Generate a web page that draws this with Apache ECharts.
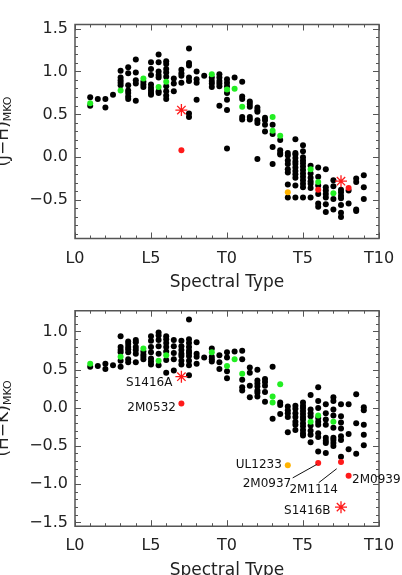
<!DOCTYPE html>
<html>
<head>
<meta charset="utf-8">
<script src="https://cdn.jsdelivr.net/npm/echarts@6/dist/echarts.min.js"></script>
<style>
  html, body { margin: 0; padding: 0; background: #fff; }
  #chart { width: 402px; height: 575px; }
</style>
</head>
<body>
<div id="chart"></div>
<script>
// spectral type as a number: L0 = 10, T0 = 20, T10 = 30
var xTickLabels = ['L0', 'L5', 'T0', 'T5', 'T10'];
var jhTicks = [-0.5, 0.0, 0.5, 1.0, 1.5];
var hkTicks = [-1.5, -1.0, -0.5, 0.0, 0.5, 1.0];

// ---- top panel: (J-H) ----
var jhBlack = [
  [11, 0.70], [11, 0.60], [11.5, 0.68], [12, 0.68], [12, 0.58], [12.5, 0.73],
  [13, 1.01], [13, 0.93], [13, 0.90], [13, 0.87], [13, 0.84],
  [13.5, 1.05], [13.5, 0.98], [13.5, 0.84], [13.5, 0.78], [13.5, 0.75], [13.5, 0.71], [13.5, 0.68],
  [14, 1.14], [14, 0.99], [14, 0.90], [14, 0.86], [14, 0.66],
  [14.5, 0.88], [14.5, 0.85], [14.5, 0.82],
  [15, 1.11], [15, 1.03], [15, 0.96], [15, 0.85], [15, 0.81], [15, 0.78], [15, 0.75], [15, 0.73],
  [15.5, 1.20], [15.5, 1.11], [15.5, 1.00], [15.5, 0.96], [15.5, 0.93], [15.5, 0.77], [15.5, 0.75],
  [16, 1.12], [16, 1.09], [16, 1.03], [16, 0.99], [16, 0.94], [16, 0.83], [16, 0.77], [16, 0.72], [16, 0.68],
  [16.5, 0.92], [16.5, 0.86], [16.5, 0.77],
  [17, 1.02], [17, 0.98], [17, 0.95], [17, 0.87],
  [17.5, 1.27], [17.5, 1.10], [17.5, 1.07], [17.5, 0.93], [17.5, 0.89], [17.5, 0.51], [17.5, 0.47],
  [18, 1.00], [18, 0.91], [18, 0.87], [18, 0.67],
  [18.5, 0.95],
  [19, 0.93], [19, 0.89], [19, 0.86], [19, 0.82],
  [19.5, 0.97], [19.5, 0.93], [19.5, 0.89], [19.5, 0.86], [19.5, 0.83], [19.5, 0.60],
  [20, 0.91], [20, 0.87], [20, 0.83], [20, 0.75], [20, 0.67], [20, 0.55], [20, 0.10],
  [20.5, 0.93],
  [21, 0.88], [21, 0.71], [21, 0.68], [21, 0.47], [21, 0.44],
  [21.5, 0.65], [21.5, 0.62], [21.5, 0.59], [21.5, 0.47], [21.5, 0.44],
  [22, 0.58], [22, 0.55], [22, 0.53], [22, 0.43], [22, 0.40], [22, -0.02],
  [22.5, 0.46], [22.5, 0.43], [22.5, 0.38], [22.5, 0.30],
  [23, 0.38], [23, 0.27], [23, 0.12], [23, -0.08],
  [23.5, 0.20], [23.5, 0.08], [23.5, 0.05], [23.5, 0.03],
  [24, 0.05], [24, 0.02], [24, -0.04], [24, -0.08], [24, -0.14], [24, -0.18], [24, -0.32], [24, -0.47],
  [24.5, 0.21], [24.5, 0.05], [24.5, 0.03], [24.5, -0.01], [24.5, -0.05], [24.5, -0.08], [24.5, -0.12],
  [24.5, -0.16], [24.5, -0.20], [24.5, -0.24], [24.5, -0.33], [24.5, -0.47],
  [25, 0.14], [25, 0.07], [25, 0.00], [25, -0.04], [25, -0.07], [25, -0.11], [25, -0.15], [25, -0.19],
  [25, -0.23], [25, -0.27], [25, -0.31], [25, -0.35], [25, -0.47],
  [25.5, -0.10], [25.5, -0.19], [25.5, -0.24], [25.5, -0.28], [25.5, -0.31], [25.5, -0.36], [25.5, -0.47],
  [26, -0.12], [26, -0.23], [26, -0.33], [26, -0.43], [26, -0.54], [26, -0.58],
  [26.5, -0.14], [26.5, -0.35], [26.5, -0.39], [26.5, -0.43], [26.5, -0.47], [26.5, -0.55], [26.5, -0.64],
  [27, -0.27], [27, -0.34], [27, -0.49], [27, -0.61],
  [27.5, -0.38], [27.5, -0.41], [27.5, -0.45], [27.5, -0.48], [27.5, -0.56], [27.5, -0.65], [27.5, -0.70],
  [28, -0.39], [28, -0.54],
  [28.5, -0.25], [28.5, -0.29], [28.5, -0.61], [28.5, -0.63],
  [29, -0.21], [29, -0.35], [29, -0.49]
];
var jhGreen = [
  [11, 0.63], [13, 0.78], [14.5, 0.92], [15.5, 0.82], [16, 0.88], [19, 0.97], [20, 0.79],
  [20.5, 0.80], [21, 0.59], [23, 0.47], [23, 0.31], [23.5, 0.25], [25.5, -0.14], [26, -0.29], [27, -0.42]
];
var jhOrange = [[24, -0.41]];
var jhRed = [[17, 0.08], [26, -0.38], [28, -0.36]];
var jhStars = [[17, 0.55], [27.5, -0.28]];

// ---- bottom panel: (H-K) ----
var hkBlack = [
  [11, 0.54], [11.5, 0.55], [12, 0.58], [12, 0.51], [12.5, 0.56],
  [13, 0.94], [13, 0.80], [13, 0.76], [13, 0.73], [13, 0.62], [13, 0.54],
  [13.5, 0.87], [13.5, 0.84], [13.5, 0.80], [13.5, 0.77], [13.5, 0.73], [13.5, 0.64], [13.5, 0.60],
  [14, 0.89], [14, 0.86], [14, 0.80], [14, 0.76], [14, 0.71], [14, 0.60],
  [14.5, 0.74], [14.5, 0.70], [14.5, 0.67], [14.5, 0.64],
  [15, 0.94], [15, 0.88], [15, 0.80], [15, 0.73], [15, 0.65], [15, 0.61], [15, 0.57],
  [15.5, 0.99], [15.5, 0.95], [15.5, 0.89], [15.5, 0.81], [15.5, 0.71], [15.5, 0.56],
  [16, 0.94], [16, 0.90], [16, 0.85], [16, 0.80], [16, 0.74], [16, 0.63], [16, 0.46],
  [16.5, 0.89], [16.5, 0.81], [16.5, 0.72], [16.5, 0.64], [16.5, 0.49],
  [17, 0.88], [17, 0.81], [17, 0.76], [17, 0.71], [17, 0.68], [17, 0.62], [17, 0.57],
  [17.5, 1.16], [17.5, 0.90], [17.5, 0.85], [17.5, 0.80], [17.5, 0.75], [17.5, 0.72], [17.5, 0.68],
  [17.5, 0.62], [17.5, 0.56], [17.5, 0.43],
  [18, 0.86], [18, 0.71], [18, 0.67], [18, 0.58],
  [18.5, 0.66],
  [19, 0.78], [19, 0.67], [19, 0.64], [19, 0.61],
  [19.5, 0.69], [19.5, 0.60], [19.5, 0.51],
  [20, 0.73], [20, 0.66], [20, 0.48], [20, 0.39],
  [20.5, 0.74],
  [21, 0.75], [21, 0.64], [21, 0.37], [21, 0.27], [21, 0.23],
  [21.5, 0.53], [21.5, 0.46], [21.5, 0.29], [21.5, 0.14],
  [22, 0.50], [22, 0.36], [22, 0.32], [22, 0.28], [22, 0.23], [22, 0.20], [22, 0.15],
  [22.5, 0.38], [22.5, 0.34], [22.5, 0.29], [22.5, 0.21], [22.5, 0.08],
  [23, 0.54], [23, -0.14],
  [23.5, 0.07], [23.5, 0.04], [23.5, -0.08],
  [24, 0.02], [24, -0.03], [24, -0.07], [24, -0.12], [24, -0.32],
  [24.5, 0.03], [24.5, -0.01], [24.5, -0.07], [24.5, -0.12], [24.5, -0.18], [24.5, -0.22], [24.5, -0.29],
  [25, 0.07], [25, 0.03], [25, 0.00], [25, -0.04], [25, -0.08], [25, -0.12], [25, -0.15], [25, -0.20],
  [25, -0.24], [25, -0.29], [25, -0.33], [25, -0.36],
  [25.5, 0.17], [25.5, -0.02], [25.5, -0.07], [25.5, -0.11], [25.5, -0.23], [25.5, -0.30], [25.5, -0.35], [25.5, -0.45],
  [26, 0.27], [26, 0.09], [26, 0.00], [26, -0.13], [26, -0.18], [26, -0.22], [26, -0.33], [26, -0.38], [26, -0.57],
  [26.5, 0.05], [26.5, -0.07], [26.5, -0.15], [26.5, -0.22], [26.5, -0.39], [26.5, -0.43], [26.5, -0.46], [26.5, -0.59],
  [27, 0.14], [27, 0.09], [27, -0.02], [27, -0.10], [27, -0.26], [27, -0.39], [27, -0.42], [27, -0.46], [27, -0.50],
  [27.5, 0.05], [27.5, -0.11], [27.5, -0.19], [27.5, -0.27], [27.5, -0.37], [27.5, -0.42], [27.5, -0.64],
  [28, 0.05], [28, -0.34], [28, -0.54],
  [28.5, 0.18], [28.5, -0.20], [28.5, -0.60],
  [29, 0.01], [29, -0.03], [29, -0.22], [29, -0.35], [29, -0.49]
];
var hkGreen = [
  [11, 0.58], [13, 0.67], [14.5, 0.78], [15.5, 0.62], [16, 0.69], [19, 0.73], [20, 0.55],
  [20.5, 0.64], [21, 0.45], [23, 0.15], [23, 0.07], [23.5, 0.31], [25.5, -0.18], [26, -0.10], [27, -0.18]
];
var hkOrange = [[24, -0.75]];
var hkOrangeNames = ['UL1233'];
var hkRed = [[17, 0.06], [26, -0.72], [27.5, -0.71], [28, -0.89]];
var hkRedNames = ['2M0532', '2M0937', '2M1114', '2M0939'];
var hkStars = [[17, 0.41], [27.5, -1.30]];
var hkStarNames = ['S1416A', 'S1416B'];

var FONT = 'DejaVu Sans';
var INK = '#222';
var FRAME = '#555';
var STAR = 'path://M6,0L6,12M0,6L12,6M1.8,1.8L10.2,10.2M1.8,10.2L10.2,1.8';

function minorValues(lo, hi, majors) {
  var out = [];
  for (var v = Math.ceil(lo * 10); v <= Math.floor(hi * 10); v++) {
    var val = v / 10;
    var isMajor = majors.some(function (m) { return Math.abs(m - val) < 1e-6; });
    if (!isMajor) out.push(val);
  }
  return out;
}

var panels = [
  { top: 24.5, height: 214, min: -0.95, max: 1.55, ticks: jhTicks, name: '(J\u2212H){s|MKO}' },
  { top: 310.7, height: 215.5, min: -1.55, max: 1.275, ticks: hkTicks, name: '(H\u2212K){s|MKO}' }
];

var grid = [], xAxis = [], yAxis = [];
panels.forEach(function (p, g) {
  grid.push({
    left: 75, width: 304, top: p.top, height: p.height,
    show: true, borderColor: FRAME, borderWidth: 1.5, backgroundColor: 'transparent',
    outerBoundsMode: 'none', containLabel: false
  });
  ['bottom', 'top'].forEach(function (pos) {
    xAxis.push({
      gridIndex: g, type: 'value', position: pos, min: 10, max: 30, interval: 5,
      axisLine: { show: false, onZero: false },
      axisTick: { show: true, inside: true, length: 6, lineStyle: { color: FRAME, width: 1 } },
      minorTick: { show: true, splitNumber: 5, length: 3, lineStyle: { color: FRAME, width: 1 } },
      splitLine: { show: false },
      axisLabel: {
        show: pos === 'bottom', margin: 12, color: INK, fontFamily: FONT, fontSize: 16,
        formatter: function (v) { return xTickLabels[Math.round((v - 10) / 5)]; }
      },
      name: pos === 'bottom' ? 'Spectral Type' : '',
      nameLocation: 'middle', nameGap: 36,
      nameTextStyle: { color: INK, fontFamily: FONT, fontSize: 17 }
    });
  });
  var minors = minorValues(p.min, p.max, p.ticks);
  ['left', 'right'].forEach(function (pos) {
    yAxis.push({
      gridIndex: g, type: 'value', position: pos, min: p.min, max: p.max,
      axisLine: { show: false, onZero: false },
      axisTick: { show: true, inside: true, length: 6, customValues: p.ticks, lineStyle: { color: FRAME, width: 1 } },
      splitLine: { show: false },
      axisLabel: {
        show: pos === 'left', customValues: p.ticks, margin: 7, color: INK, fontFamily: FONT, fontSize: 16,
        formatter: function (v) { return (v < 0 ? '\u2212' : '') + Math.abs(v).toFixed(1); }
      },
      name: pos === 'left' ? p.name : '',
      nameLocation: 'middle', nameRotate: 90, nameGap: 61, nameMoveOverlap: false,
      nameTextStyle: {
        color: INK, fontFamily: FONT, fontSize: 17,
        rich: { s: { fontFamily: FONT, fontSize: 11, color: INK, padding: [10, 0, 0, 0] } }
      }
    });
    yAxis.push({
      gridIndex: g, type: 'value', position: pos, min: p.min, max: p.max,
      axisLine: { show: false, onZero: false },
      axisTick: { show: true, inside: true, length: 3, customValues: minors, lineStyle: { color: FRAME, width: 1 } },
      splitLine: { show: false },
      axisLabel: { show: false }
    });
  });
});

function dots(data, color, g, size) {
  return {
    type: 'scatter', xAxisIndex: g * 2, yAxisIndex: g * 4, data: data,
    symbol: 'circle', symbolSize: size || 6, silent: true,
    itemStyle: { color: color, opacity: 1 }
  };
}
function stars(data, g) {
  return {
    type: 'scatter', xAxisIndex: g * 2, yAxisIndex: g * 4, data: data,
    symbol: STAR, symbolSize: 12, silent: true,
    itemStyle: { color: 'none', borderColor: '#ff1a1a', borderWidth: 1.3, opacity: 1 }
  };
}
function named(points, names) {
  return points.map(function (pt, i) { return { value: pt, name: names[i] }; });
}
var labelStyle = {
  show: true, formatter: '{b}', position: 'left', distance: 5,
  color: '#111', fontFamily: FONT, fontSize: 12
};

var orangeSeries = dots(named(hkOrange, hkOrangeNames), '#ffb300', 1);
orangeSeries.label = Object.assign({}, labelStyle);
orangeSeries.labelLayout = { dx: 2 };

var redSeries = dots(named(hkRed, hkRedNames), '#ff1a1a', 1);
redSeries.label = Object.assign({}, labelStyle);
var redShift = [[2.5, 4], [-19, 21], [5, 28], [-4.5, 4]];
redSeries.data[3].label = { position: 'right' };
redSeries.labelLayout = function (p) { return { dx: redShift[p.dataIndex][0], dy: redShift[p.dataIndex][1] }; };

var starSeries = stars(named(hkStars, hkStarNames), 1);
starSeries.label = Object.assign({}, labelStyle);
var starShift = [[4.5, 6], [3, 3.5]];
starSeries.labelLayout = function (p) { return { dx: starShift[p.dataIndex][0], dy: starShift[p.dataIndex][1] }; };

var chart = echarts.init(document.getElementById('chart'), null, { renderer: 'canvas' });
chart.setOption({
  animation: false,
  backgroundColor: '#fff',
  grid: grid,
  xAxis: xAxis,
  yAxis: yAxis,
  series: [
    dots(jhBlack, '#000', 0),
    dots(jhGreen, '#22ee22', 0),
    dots(jhOrange, '#ffb300', 0),
    dots(jhRed, '#ff1a1a', 0),
    stars(jhStars, 0),
    dots(hkBlack, '#000', 1),
    dots(hkGreen, '#22ee22', 1),
    orangeSeries,
    redSeries,
    starSeries
  ]
});

// leader lines from the 2M0937 / 2M1114 labels to their dots (offsets from the dot in px)
var leaderFor = [1, 2];
var leaderOffsets = [[[-25.5, 15], [-1.5, 1.6]], [[-22.3, 20.6], [-4.3, 6.6]]];
chart.setOption({
  graphic: leaderFor.map(function (idx, i) {
    var c = chart.convertToPixel({ xAxisIndex: 2, yAxisIndex: 4 }, hkRed[idx]);
    var o = leaderOffsets[i];
    return {
      type: 'line', silent: true, z: 10,
      shape: { x1: c[0] + o[0][0], y1: c[1] + o[0][1], x2: c[0] + o[1][0], y2: c[1] + o[1][1] },
      style: { stroke: '#111', lineWidth: 1 }
    };
  })
});
</script>
</body>
</html>
